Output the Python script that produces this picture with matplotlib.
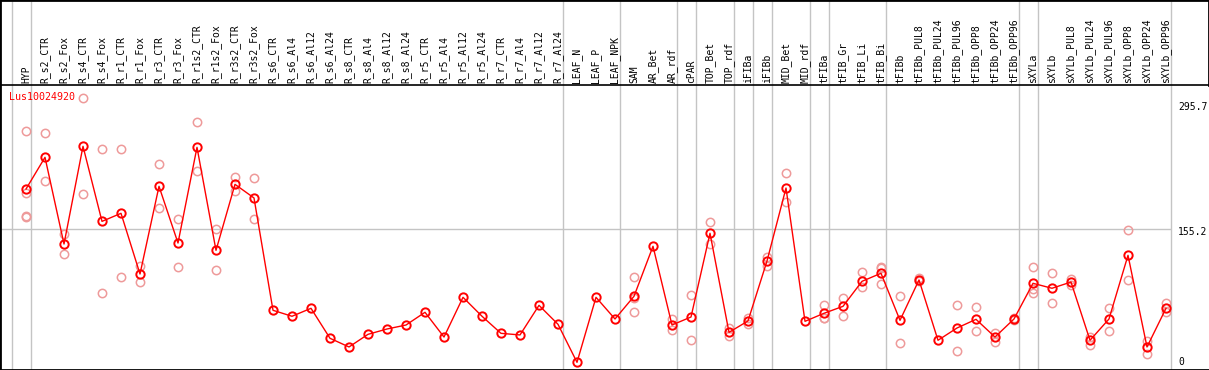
import matplotlib
matplotlib.use('Agg')
import matplotlib.pyplot as plt
import numpy as np

GENE = 'Lus10024920'

samples = [
    'HYP',
    'R_s2_CTR', 'R_s2_Fox', 'R_s4_CTR', 'R_s4_Fox', 'R_r1_CTR', 'R_r1_Fox',
    'R_r3_CTR', 'R_r3_Fox', 'R_r1s2_CTR', 'R_r1s2_Fox', 'R_r3s2_CTR', 'R_r3s2_Fox',
    'R_s6_CTR', 'R_s6_Al4', 'R_s6_Al12', 'R_s6_Al24',
    'R_s8_CTR', 'R_s8_Al4', 'R_s8_Al12', 'R_s8_Al24',
    'R_r5_CTR', 'R_r5_Al4', 'R_r5_Al12', 'R_r5_Al24',
    'R_r7_CTR', 'R_r7_Al4', 'R_r7_Al12', 'R_r7_Al24',
    'LEAF_N', 'LEAF_P', 'LEAF_NPK',
    'SAM', 'AR_Bet', 'AR_rdf',
    'cPAR',
    'TOP_Bet', 'TOP_rdf',
    'iFIBa',
    'iFIBb',
    'MID_Bet', 'MID_rdf',
    'tFIBa',
    'tFIB_Gr', 'tFIB_Li', 'tFIB_Bi',
    'tFIBb', 'tFIBb_PUL8', 'tFIBb_PUL24', 'tFIBb_PUL96', 'tFIBb_OPP8', 'tFIBb_OPP24', 'tFIBb_OPP96',
    'sXYLa',
    'sXYLb', 'sXYLb_PUL8', 'sXYLb_PUL24', 'sXYLb_PUL96', 'sXYLb_OPP8', 'sXYLb_OPP24', 'sXYLb_OPP96',
]

# sizes of the sample groups (a grey separator follows each group)
group_sizes = [1, 28, 3, 3, 1, 2, 1, 1, 2, 1, 3, 7, 1, 7]

means = [
    199.3,
    234.4, 138.4, 246.6, 163.5, 172.4, 105.2, 202.3, 139.5, 245.5, 131.4, 204.5, 189.4,
    65.0, 58.4, 67.2, 34.0,
    24.4, 38.4, 44.3, 48.7,
    62.8, 35.4, 79.4, 58.4,
    39.5, 37.7, 70.5, 49.5,
    7.4, 79.4, 55.4,
    80.5, 135.9, 48.7,
    57.6,
    150.3, 40.6,
    53.2,
    119.6,
    200.4, 52.8,
    61.7,
    69.4, 97.1, 106.0,
    53.9, 98.6, 31.8, 45.4, 55.0, 35.4, 55.4,
    94.9,
    89.4, 96.3, 31.8, 55.4, 125.9, 24.4, 67.2,
]

replicates = [
    [263.2, 195.3, 169.1, 168.0],
    [261.0, 207.9], [149.5, 127.0], [300.1, 193.5], [243.3, 83.8],
    [243.3, 101.5], [113.7, 96.0], [226.7, 178.0], [165.8, 112.6],
    [273.2, 218.9], [154.7, 109.3], [212.6, 196.8], [211.2, 165.8],
    [], [], [], [],
    [], [], [], [],
    [], [], [], [],
    [], [], [], [],
    [], [], [],
    [101.5, 78.3, 62.8], [], [55.0, 42.9],
    [81.6, 31.8],
    [162.5, 138.4], [45.8, 36.5],
    [56.5, 49.8],
    [124.4, 114.4],
    [216.7, 184.6], [],
    [70.5, 57.0, 56.0],
    [78.6, 59.0], [107.1, 90.8], [113.0, 111.5, 93.8],
    [80.5, 28.5], [100.8, 97.1], [], [70.5, 19.6], [68.3, 41.7], [39.9, 29.5], [56.0, 54.6],
    [112.6, 88.3, 84.2],
    [106.0, 73.1], [100.0, 92.7], [35.4, 26.9], [67.2, 41.7], [153.6, 98.2], [30.7, 17.0], [73.1, 63.1],
]

y_labels = [295.7, 155.2, 0]

W, H = 1209, 370
PX0, STEP = 26, 19          # pixel x of first sample, pixels per sample
Y0, PXU = 369, 0.903        # pixel y of value 0, pixels per unit
HDR = 85                    # pixel y of header line

MONO = 'DejaVu Sans Mono'
RED = '#ff0000'
PINK = '#ee9a9a'
GRID = '#c4c4c4'

fig = plt.figure(figsize=(W / 100, H / 100), dpi=100, facecolor='white')
ax = fig.add_axes([0, 0, 1, 1])
ax.set_xlim(-PX0 / STEP, (W - PX0) / STEP)
ax.set_ylim((Y0 - H) / PXU, Y0 / PXU)
ax.set_xticks([])
ax.set_yticks([])
for s in ['top', 'left', 'bottom']:
    ax.spines[s].set_linewidth(2)
ax.spines['right'].set_visible(False)

x = np.arange(len(samples))
hdr_val = (Y0 - HDR) / PXU
ax.axhline(hdr_val, color='black', lw=1.2, zorder=3)
ax.plot([1, 1], [(H - HDR) / H, 1], color='black', lw=2, transform=ax.transAxes, clip_on=False)

# group separators
bounds = np.concatenate([[-1], np.cumsum(group_sizes) - 1]) + 0.24
for b in bounds:
    ax.axvline(b, color=GRID, lw=1, zorder=0)
ax.hlines(y_labels[1], ax.get_xlim()[0], bounds[-1], color=GRID, lw=1, zorder=0)

# header labels
lab_y = (Y0 - 83) / PXU
for i, s in enumerate(samples):
    ax.text(i, lab_y, s, rotation=90, ha='center', va='bottom',
            fontsize=7, family=MONO, color='black')

# replicates
for i, reps in enumerate(replicates):
    if reps:
        ax.plot([i] * len(reps), reps, 'o', ms=6, mfc='none', mec=PINK, mew=1.1, zorder=2)

ax.plot(x, means, '-', color=RED, lw=1, zorder=3)
ax.plot(x, means, 'o', ms=6, mfc='none', mec=RED, mew=1.4, zorder=4)

ax.text(-0.87, (Y0 - 97) / PXU, GENE, color=RED, fontsize=7.2, family=MONO,
        ha='left', va='center')

# value labels on the right
lab_x = (1178 - PX0) / STEP
centers = [107, 232, 362]
for v, cy in zip(y_labels, centers):
    ax.text(lab_x, (Y0 - cy) / PXU, f'{v:g}', fontsize=7, family=MONO,
            ha='left', va='center', color='black')

fig.savefig('out.png', dpi=100, facecolor='white')
